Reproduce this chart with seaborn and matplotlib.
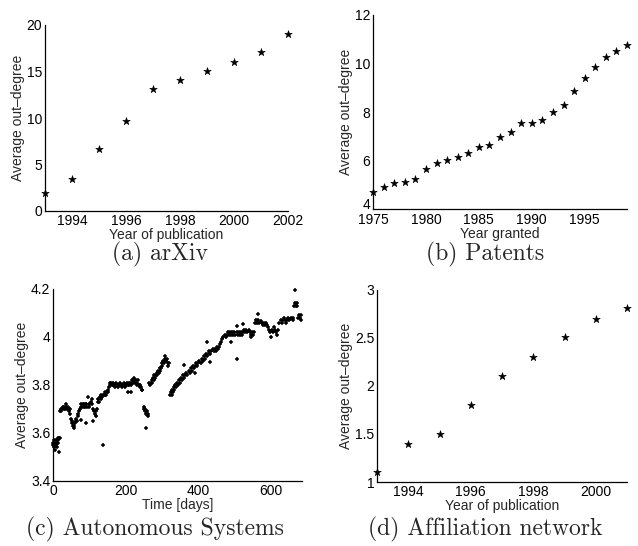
import pandas as pd
import matplotlib
matplotlib.use('Agg')
import matplotlib.pyplot as plt
import matplotlib.transforms as mtrans
import seaborn as sns

# (a) arXiv
arxiv_years = [1993, 1994, 1995, 1996, 1997, 1998, 1999, 2000, 2001, 2002]
arxiv_deg = [1.94, 3.41, 6.64, 9.66, 13.07, 14.08, 15.04, 16.05, 17.06, 19.07]

# (b) Patents
patent_years = list(range(1975, 2000))
patent_deg = [4.70, 4.91, 5.06, 5.10, 5.25, 5.65, 5.89, 6.03, 6.13, 6.30,
              6.54, 6.65, 6.95, 7.17, 7.54, 7.54, 7.65, 7.99, 8.29, 8.87,
              9.39, 9.84, 10.28, 10.50, 10.76]

# (c) Autonomous Systems (roughly every few days)
as_days = [0, 1, 2, 3, 4, 5, 6, 7, 8, 9, 10, 11, 12, 13, 14, 15, 16, 17, 18,
           20, 21, 23, 25, 27, 29, 31, 33, 35, 37, 39, 41, 43, 45, 47, 48,
           50, 52, 53, 55, 56, 58, 59, 60,
           62, 64, 66, 68, 70, 72, 74, 76, 77, 78, 80, 82,
           84, 86, 88, 90, 90, 92, 94, 96, 98, 100, 102, 104, 106, 108, 110,
           111, 113, 115, 117, 119, 121,
           123, 125, 127, 129, 131, 133, 135, 137, 138, 140, 142, 144, 146, 148, 150, 152, 154,
           156, 158, 160, 162, 164, 166, 168, 170, 172, 174, 176, 178, 180, 182, 184, 186, 188,
           190, 192, 194, 196, 198, 200, 202, 204, 206, 207, 208, 210, 212, 214, 215, 216, 218, 220,
           222, 224, 226, 228, 230, 232, 234, 236, 238, 240, 242, 244, 246,
           249, 251, 252, 253, 255, 256, 257, 258, 260, 262,
           265, 267, 269, 271, 273, 275, 277, 279, 281, 283, 285, 287, 289, 291, 293, 295, 297,
           299, 301, 303, 305, 307, 309, 311, 313, 315, 317, 319,
           322, 324, 326, 328, 330, 332, 334, 336, 338,
           340, 343, 346, 349, 352, 355, 358, 361, 361, 364, 367, 370, 373, 376, 379, 382,
           385, 388, 391, 392, 394, 397, 400, 403, 406, 409, 412, 415, 418, 421, 424, 424,
           427, 430, 431, 433, 436, 439, 442, 445, 448, 451, 454, 457, 460,
           463, 466, 469, 472, 475, 478, 481, 484, 487, 489, 490, 493, 496, 499, 502, 505, 505, 507, 508,
           511, 514, 517, 520, 523, 523, 526, 529, 532, 535, 538, 541, 544, 546, 548, 551, 553,
           556, 559, 562, 563, 565, 568, 571, 574, 577, 580, 583, 586, 589,
           592, 595, 598, 600, 602, 605, 608, 611, 614, 617, 620,
           623, 626, 629, 632, 635, 638, 641, 644, 647, 650, 653, 656, 659, 661,
           663, 665, 666, 668, 670, 672,
           675, 677, 679, 681, 683]
as_deg = [3.56, 3.55, 3.57, 3.54, 3.56, 3.55, 3.53, 3.56, 3.57, 3.55, 3.54, 3.56, 3.57, 3.56, 3.58, 3.57, 3.52, 3.58, 3.58,
          3.69, 3.70, 3.69, 3.70, 3.71, 3.70, 3.71, 3.70, 3.71, 3.72, 3.70, 3.71, 3.70, 3.69, 3.70, 3.68,
          3.66, 3.64, 3.65, 3.63, 3.64, 3.62, 3.63, 3.64,
          3.65, 3.66, 3.65, 3.67, 3.68, 3.69, 3.70, 3.71, 3.655, 3.72, 3.71, 3.72,
          3.71, 3.72, 3.71, 3.64, 3.72, 3.72, 3.71, 3.75, 3.72, 3.71, 3.72, 3.73, 3.72, 3.74, 3.65,
          3.70, 3.69, 3.68, 3.67, 3.69, 3.70,
          3.73, 3.74, 3.73, 3.75, 3.74, 3.76, 3.75, 3.76, 3.55, 3.76, 3.77, 3.76, 3.76, 3.77, 3.77, 3.78, 3.79,
          3.81, 3.80, 3.81, 3.80, 3.81, 3.80, 3.80, 3.79, 3.80, 3.81, 3.80, 3.80, 3.79, 3.80, 3.81, 3.80, 3.80,
          3.79, 3.80, 3.81, 3.80, 3.79, 3.80, 3.80, 3.81, 3.80, 3.77, 3.81, 3.80, 3.81, 3.80, 3.77, 3.81, 3.82, 3.81,
          3.83, 3.82, 3.81, 3.82, 3.81, 3.80, 3.82, 3.80, 3.79, 3.80, 3.79, 3.78, 3.78,
          3.71, 3.70, 3.69, 3.70, 3.69, 3.68, 3.62, 3.69, 3.68, 3.67,
          3.81, 3.80, 3.81, 3.82, 3.81, 3.83, 3.82, 3.84, 3.83, 3.84, 3.85, 3.84, 3.86, 3.85, 3.87, 3.86, 3.87,
          3.88, 3.89, 3.90, 3.89, 3.91, 3.92, 3.90, 3.91, 3.89, 3.88, 3.89,
          3.76, 3.77, 3.76, 3.78, 3.77, 3.78, 3.79, 3.80, 3.79,
          3.81, 3.80, 3.82, 3.81, 3.83, 3.82, 3.84, 3.885, 3.83, 3.84, 3.85, 3.84, 3.86, 3.85, 3.87, 3.86,
          3.88, 3.87, 3.88, 3.85, 3.89, 3.88, 3.89, 3.90, 3.89, 3.91, 3.90, 3.92, 3.91, 3.93, 3.92, 3.98,
          3.93, 3.94, 3.895, 3.93, 3.94, 3.95, 3.94, 3.95, 3.94, 3.96, 3.95, 3.96, 3.97,
          3.98, 3.99, 4.00, 4.01, 4.00, 4.01, 4.02, 4.01, 4.02, 3.98, 4.01, 4.02, 4.01, 4.02, 4.01, 4.045, 4.02, 3.91, 4.01,
          4.02, 4.01, 4.02, 4.01, 4.055, 4.02, 4.03, 4.02, 4.03, 4.02, 4.03, 4.02, 4.01, 4.00, 4.02, 4.01, 4.02,
          4.06, 4.07, 4.06, 4.097, 4.07, 4.06, 4.065, 4.06, 4.05, 4.06, 4.05, 4.06, 4.05,
          4.04, 4.03, 4.02, 4.00, 4.03, 4.02, 4.04, 4.03, 4.02, 4.01, 4.03,
          4.06, 4.07, 4.06, 4.07, 4.08, 4.07, 4.06, 4.07, 4.08, 4.07, 4.075, 4.08, 4.07, 4.08,
          4.13, 4.197, 4.14, 4.13, 4.14, 4.13,
          4.08, 4.09, 4.08, 4.07, 4.09]

# (d) Affiliation network
affil_years = [1993, 1994, 1995, 1996, 1997, 1998, 1999, 2000, 2001]
affil_deg = [1.10, 1.40, 1.50, 1.80, 2.10, 2.30, 2.51, 2.70, 2.81]

sns.set_style("white")
plt.rcParams['font.family'] = ['Liberation Sans', 'DejaVu Sans']
plt.rcParams['font.size'] = 10

fig = plt.figure(figsize=(6.38, 5.46), dpi=100)
W, H = 638.0, 546.0


def make_ax(left, top, right, bottom):
    return fig.add_axes([left / W, 1 - bottom / H, (right - left) / W, (bottom - top) / H])


def style_ax(ax, xlabel):
    sns.despine(ax=ax)
    for s in ['left', 'bottom']:
        ax.spines[s].set_color('k')
        ax.spines[s].set_linewidth(0.9)
    ax.tick_params(direction='in', length=3.5, width=0.8, colors='k', labelsize=10, pad=2)
    ax.set_xlabel(xlabel, fontsize=10, labelpad=0)
    ax.set_ylabel('Average out–degree', fontsize=10, labelpad=1)


def star_panel(ax, x, y):
    df = pd.DataFrame({'x': x, 'y': y})
    sns.scatterplot(data=df, x='x', y='y', ax=ax, marker='*', s=32,
                    color='k', edgecolor='k', linewidth=0.4, clip_on=False, legend=False)


ax_a = make_ax(45, 25, 288, 211)
star_panel(ax_a, arxiv_years, arxiv_deg)
ax_a.set_xlim(1993, 2002)
ax_a.set_ylim(0, 20)
ax_a.set_xticks([1994, 1996, 1998, 2000, 2002])
ax_a.set_yticks([0, 5, 10, 15, 20])
style_ax(ax_a, 'Year of publication')

ax_b = make_ax(373, 15, 627, 209)
star_panel(ax_b, patent_years, patent_deg)
ax_b.set_xlim(1975, 1999)
ax_b.set_ylim(4, 12)
ax_b.set_xticks([1975, 1980, 1985, 1990, 1995])
ax_b.set_yticks([4, 6, 8, 10, 12])
style_ax(ax_b, 'Year granted')
ax_b.tick_params(axis='x', pad=3)
# lift the bottom "4" a little so it clears "1975"
lift = mtrans.ScaledTranslation(0, 4 / 72, fig.dpi_scale_trans)
first = ax_b.get_yticklabels()[0]
first.set_transform(first.get_transform() + lift)

ax_c = make_ax(53, 289, 302, 481)
as_df = pd.DataFrame({'day': as_days, 'deg': as_deg})
sns.scatterplot(data=as_df, x='day', y='deg', ax=ax_c, marker='+', s=12,
                color='k', linewidth=1.1, clip_on=False, legend=False)
ax_c.set_xlim(0, 685)
ax_c.set_ylim(3.4, 4.2)
ax_c.set_xticks([0, 200, 400, 600])
ax_c.set_yticks([3.4, 3.6, 3.8, 4.0, 4.2])
ax_c.set_yticklabels(['3.4', '3.6', '3.8', '4', '4.2'])
style_ax(ax_c, 'Time [days]')

ax_d = make_ax(377, 290, 627, 482)
star_panel(ax_d, affil_years, affil_deg)
ax_d.set_xlim(1993, 2001)
ax_d.set_ylim(1, 3)
ax_d.set_xticks([1994, 1996, 1998, 2000])
ax_d.set_yticks([1, 1.5, 2, 2.5, 3])
ax_d.set_yticklabels(['1', '1.5', '2', '2.5', '3'])
style_ax(ax_d, 'Year of publication')

captions = [('(a) arXiv', 160, 254), ('(b) Patents', 485, 254),
            ('(c) Autonomous Systems', 155, 529), ('(d) Affiliation network', 485, 529)]
for txt, cx, cy in captions:
    fig.text(cx / W, 1 - cy / H, txt, ha='center', va='center',
             fontsize=17, family='cmr10')

plt.savefig('out.png', dpi=100)
